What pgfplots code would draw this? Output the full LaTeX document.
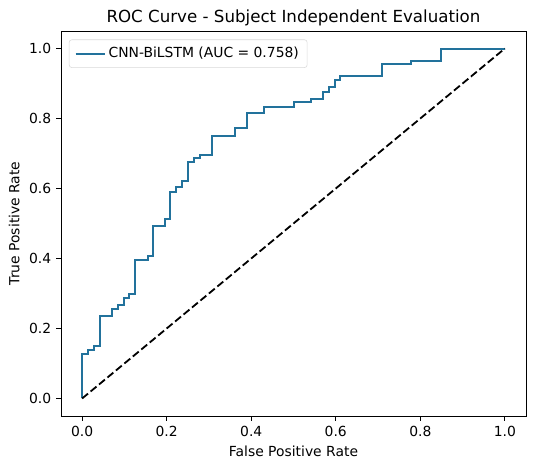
\documentclass[border=0pt]{standalone}
\usepackage{pgfplots}
\pgfplotsset{compat=1.18}
\usepackage{fontspec}
\setmainfont{DejaVu Sans}
\definecolor{roc}{RGB}{34,114,156}
\begin{document}
\begin{tikzpicture}[x=1pt,y=1pt]
\begin{axis}[
  at={(0,0)}, anchor=south west,
  scale only axis,
  width=334.8pt, height=277.2pt,
  xmin=-0.05, xmax=1.05, ymin=-0.05, ymax=1.05,
  xtick={0,0.2,0.4,0.6,0.8,1.0},
  ytick={0,0.2,0.4,0.6,0.8,1.0},
  xticklabel style={/pgf/number format/.cd,fixed,fixed zerofill,precision=1},
  yticklabel style={/pgf/number format/.cd,fixed,fixed zerofill,precision=1},
  /pgf/number format/assume math mode=true,
  tick label style={font=\fontsize{10}{12}\selectfont},
  label style={font=\fontsize{10}{12}\selectfont},
  xlabel={False Positive Rate},
  ylabel={True Positive Rate},
  title={ROC Curve - Subject Independent Evaluation},
  title style={font=\fontsize{12}{14}\selectfont, yshift=-6pt},
  tick align=outside, tick pos=left,
  major tick length=3.5pt,
  axis line style={line width=0.6pt},
  every tick/.style={black, line width=0.6pt},
  legend style={font=\fontsize{10}{12}\selectfont, draw=black!15, rounded corners=2pt, inner xsep=4pt, inner ysep=3.5pt, at={(0.017,0.978)}, anchor=north west},
  legend cell align=left,
  legend image code/.code={\draw[#1] (0pt,0pt) -- (21pt,0pt);},
]
\addplot[color=roc, line width=1.4pt, const plot] coordinates {
(0,0) (0,0.127) (0.014,0.139) (0.028,0.149) (0.043,0.235) (0.071,0.256) (0.085,0.267)
(0.099,0.288) (0.112,0.298) (0.124,0.395) (0.155,0.407) (0.167,0.493) (0.196,0.513)
(0.208,0.590) (0.222,0.604) (0.236,0.621) (0.251,0.675) (0.265,0.688) (0.279,0.695)
(0.308,0.750) (0.362,0.772) (0.389,0.816) (0.430,0.834) (0.501,0.847) (0.541,0.857)
(0.569,0.877) (0.585,0.890) (0.599,0.910) (0.611,0.921) (0.710,0.955) (0.779,0.963)
(0.849,0.999) (1.0,0.999)
};
\addlegendentry{CNN-BiLSTM (AUC = 0.758)}
\addplot[black, line width=1.3pt, dash pattern=on 5.5pt off 2.4pt, forget plot] coordinates {(0,0) (1,1)};
\end{axis}
\pgfresetboundingbox
\path (-43.9pt,-38.9pt) rectangle (342.0pt,299.5pt);
\end{tikzpicture}
\end{document}
